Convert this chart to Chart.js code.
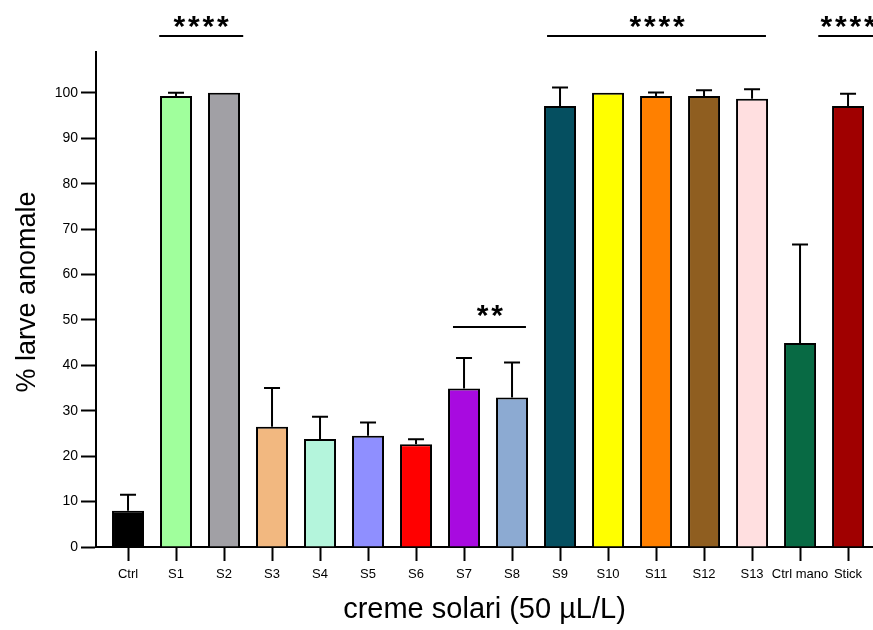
<!DOCTYPE html>
<html><head><meta charset="utf-8">
<script src="https://cdn.jsdelivr.net/npm/chart.js@4.4.0/dist/chart.umd.min.js"></script>
<style>html,body{margin:0;padding:0;background:#fff;}#wrap{width:873px;height:630px;position:relative;}</style>
</head><body><div id="wrap"><canvas id="c" width="873" height="630"></canvas></div>
<script>
const categories = ['Ctrl','S1','S2','S3','S4','S5','S6','S7','S8','S9','S10','S11','S12','S13','Ctrl mano','Stick'];
const means  = [8, 99.3, 100, 26.5, 23.8, 24.5, 22.6, 34.9, 32.9, 97.1, 100, 99.3, 99.3, 98.7, 44.9, 97.1];
const errors = [3.5, 0.7, 0, 8.5, 4.9, 2.9, 1.1, 6.7, 7.7, 4.1, 0, 0.8, 1.3, 2.1, 21.7, 2.7];
const barColors = ['#000000','#a0ff9c','#a1a0a5','#f2b880','#b4f5dc','#8f8fff','#ff0000','#a80ae0',
                   '#8caad2','#054f60','#ffff00','#ff8000','#8f5e20','#ffdfe0','#086a44','#a00000'];
const yTicks = [0,10,20,30,40,50,60,70,80,90,100];
const significance = [
  {from:0.65, to:2.4,  level:112.5, label:'****', labelAt:1.52,  labelLevel:115.6},
  {from:8.73, to:13.29,level:112.5, label:'****', labelAt:11.02, labelLevel:115.6},
  {from:14.38,to:16.2, level:112.5, label:'****', labelAt:15.0,  labelLevel:115.6},
  {from:6.77, to:8.29, level:48.5,  label:'**',   labelAt:7.54,  labelLevel:51.9}
];
const FONT = "'Liberation Sans', Arial, sans-serif";

const errorBarPlugin = {
  id:'errorBars',
  afterDatasetsDraw(chart){
    const {ctx, scales:{x,y}} = chart;
    ctx.save();
    ctx.strokeStyle = '#000'; ctx.lineWidth = 2;
    means.forEach((m,i)=>{
      if (!errors[i]) return;
      const px = x.getPixelForValue(i);
      const y0 = y.getPixelForValue(m);
      const y1 = y.getPixelForValue(m+errors[i]);
      ctx.beginPath();
      ctx.moveTo(px, y0); ctx.lineTo(px, y1);
      ctx.moveTo(px-8, y1); ctx.lineTo(px+8, y1);
      ctx.stroke();
    });
    ctx.restore();
  }
};

const sigPlugin = {
  id:'sig',
  afterDraw(chart){
    const {ctx, scales:{x,y}} = chart;
    ctx.save();
    ctx.strokeStyle = '#000'; ctx.lineWidth = 2; ctx.fillStyle = '#000';
    ctx.font = "bold 30px " + FONT;
    ctx.textAlign = 'center'; ctx.textBaseline = 'alphabetic';
    const m = ctx.measureText('*');
    const off = (m.actualBoundingBoxAscent - m.actualBoundingBoxDescent)/2;
    significance.forEach(s=>{
      const ly = Math.round(y.getPixelForValue(s.level));
      ctx.beginPath();
      ctx.moveTo(x.getPixelForValue(s.from), ly);
      ctx.lineTo(x.getPixelForValue(s.to), ly);
      ctx.stroke();
      const n = s.label.length, pitch = 14.5;
      const cx = x.getPixelForValue(s.labelAt), cy = y.getPixelForValue(s.labelLevel);
      for (let k=0;k<n;k++){
        ctx.fillText('*', cx + (k-(n-1)/2)*pitch, cy + off);
      }
    });
    ctx.restore();
  }
};

new Chart(document.getElementById('c'), {
  type:'bar',
  data:{ datasets:[{
    data: means.map((v,i)=>({x:i, y:v})),
    backgroundColor: barColors,
    borderColor:'#000', borderWidth:2,
    barPercentage: 2/3, categoryPercentage: 1
  }]},
  options:{
    responsive:false, animation:false, devicePixelRatio:1,
    layout:{padding:{top:52,right:0,left:0,bottom:0}},
    plugins:{legend:{display:false}, tooltip:{enabled:false}},
    scales:{
      x:{
        type:'linear', min:-0.667, max:15.52, offset:false,
        afterBuildTicks(axis){ axis.ticks = categories.map((c,i)=>({value:i})); },
        afterFit(s){ s.height = 83; },
        ticks:{ callback:(v)=>categories[v], autoSkip:false, maxRotation:0, minRotation:0,
                font:{family:FONT, size:13}, color:'#000', padding:6 },
        grid:{ offset:false, drawOnChartArea:false, drawTicks:true, tickLength:14, tickWidth:2, tickColor:'#000' },
        border:{ display:true, color:'#000', width:2 },
        title:{ display:true, text:'creme solari (50 µL/L)', color:'#000',
                font:{family:FONT, size:29}, padding:{top:0,bottom:3} }
      },
      y:{
        type:'linear', min:0, max:109,
        afterBuildTicks(axis){ axis.ticks = yTicks.map(v=>({value:v})); },
        afterFit(s){ s.width = 96; },
        ticks:{ font:{family:FONT, size:14}, color:'#000', padding:3 },
        grid:{ drawOnChartArea:false, drawTicks:true, tickLength:15, tickWidth:2, tickColor:'#000' },
        border:{ display:true, color:'#000', width:2 },
        title:{ display:true, text:'  % larve anomale', color:'#000',
                font:{family:FONT, size:27}, padding:{top:11,bottom:0} }
      }
    }
  },
  plugins:[errorBarPlugin, sigPlugin]
});
</script></body></html>
